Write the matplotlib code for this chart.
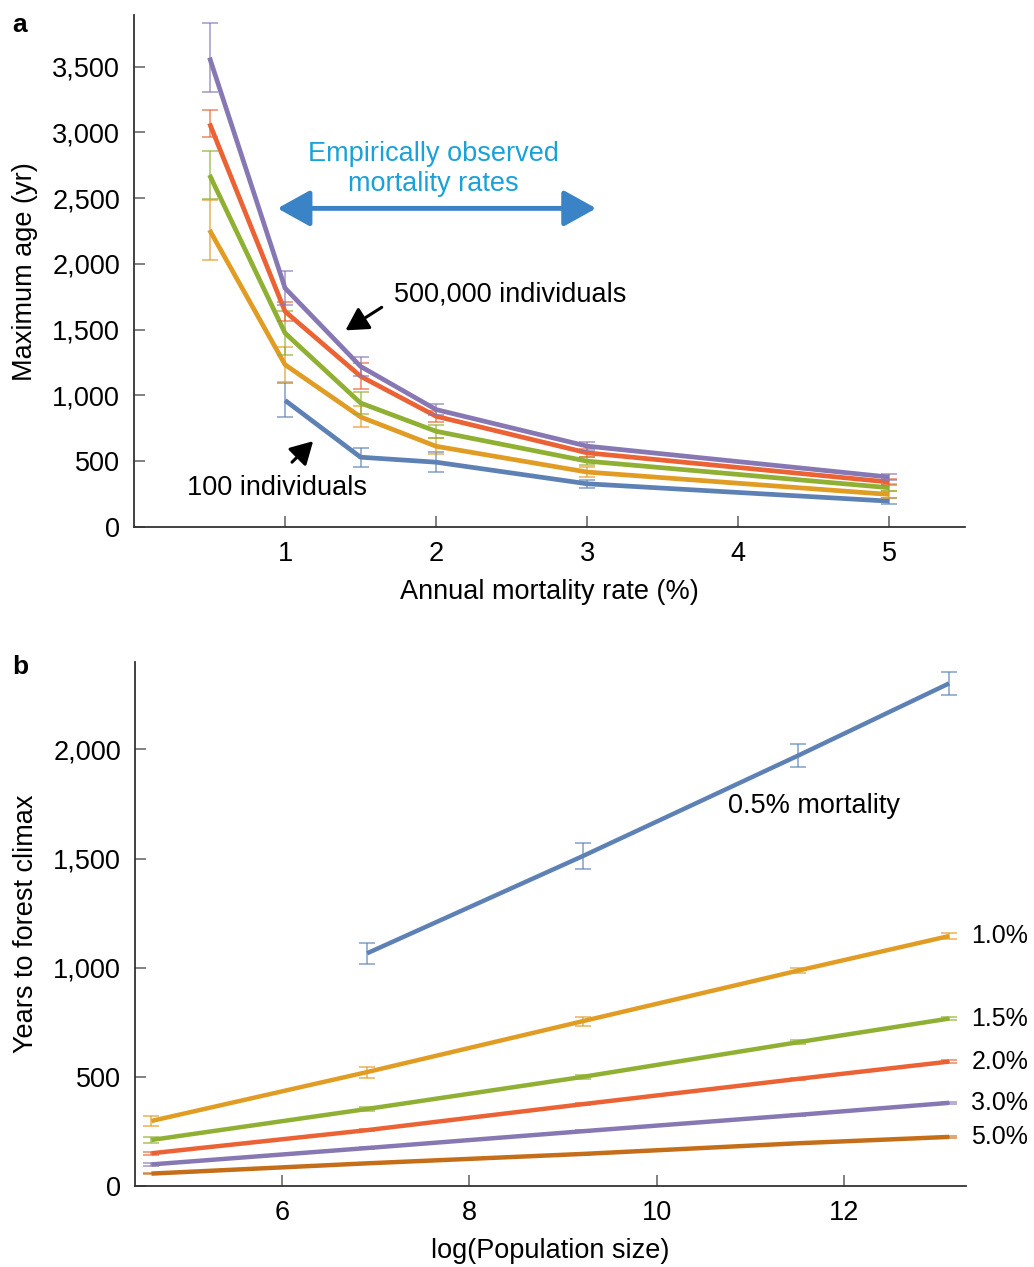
import numpy as np
import matplotlib
matplotlib.use('Agg')
import matplotlib.pyplot as plt
from matplotlib.ticker import FuncFormatter

plt.rcParams['font.family'] = ['Liberation Sans', 'DejaVu Sans']

# panel a data
mort = [0.5, 1, 1.5, 2, 3, 5]
age_purple = [3568, 1816, 1221, 893, 615, 380]
err_purple = [265, 130, 70, 40, 35, 25]
age_red = [3068, 1639, 1146, 842, 564, 342]
err_red = [105, 70, 100, 40, 30, 25]
age_green = [2676, 1474, 943, 728, 501, 299]
err_green = [185, 170, 80, 50, 30, 25]
age_orange = [2258, 1234, 837, 614, 418, 248]
err_orange = [225, 135, 80, 60, 35, 25]
mort_blue = [1, 1.5, 2, 3, 5]
age_blue = [963, 531, 493, 329, 197]
err_blue = [130, 72, 75, 30, 25]

# panel b data
logN = [4.605, 6.908, 9.210, 11.513, 13.122]
logN_05 = [6.908, 9.210, 11.513, 13.122]
yrs_05 = [1066, 1511, 1972, 2302]
err_05 = [49, 59, 54, 52]
yrs_10 = [298, 522, 755, 987, 1145]
err_10 = [22, 25, 20, 12, 12]
yrs_15 = [211, 353, 500, 659, 767]
err_15 = [15, 10, 8, 8, 6]
yrs_20 = [150, 256, 375, 491, 570]
err_20 = [8, 6, 6, 6, 6]
yrs_30 = [99, 174, 251, 326, 381]
err_30 = [5, 4, 4, 4, 4]
yrs_50 = [57, 104, 147, 196, 225]
err_50 = [4, 3, 3, 3, 3]
right_labels = ['1.0%', '1.5%', '2.0%', '3.0%', '5.0%']

blue = '#5E81B5'
orange = '#E19C24'
green = '#8FB032'
red = '#EB6235'
purple = '#8778B3'
brown = '#C56E1A'

FS = 19.5
comma = FuncFormatter(lambda v, p: '{:,.0f}'.format(v))

fig = plt.figure(figsize=(10.34, 12.67), dpi=100)
ax1 = fig.add_axes([0.1296, 0.584, 0.8034, 0.404])
ax2 = fig.add_axes([0.1306, 0.0639, 0.8034, 0.4136])


def style(ax):
    for s in ['top', 'right']:
        ax.spines[s].set_visible(False)
    for s in ['left', 'bottom']:
        ax.spines[s].set_color('#333333')
        ax.spines[s].set_linewidth(1.3)
    ax.tick_params(direction='in', length=8, width=1.3, color='#777777',
                   labelsize=FS, pad=10)
    ax.yaxis.set_major_formatter(comma)


def series(ax, x, y, e, c, lw=3.4):
    ax.errorbar(x, y, yerr=e, fmt='none', ecolor=c, alpha=0.7,
                elinewidth=1.2, capsize=5.5, capthick=1.2)
    ax.plot(x, y, color=c, lw=lw, solid_capstyle='butt')


# ---- panel a
series(ax1, mort_blue, age_blue, err_blue, blue)
series(ax1, mort, age_orange, err_orange, orange)
series(ax1, mort, age_green, err_green, green)
series(ax1, mort, age_red, err_red, red)
series(ax1, mort, age_purple, err_purple, purple)
ax1.set_xlim(0, 5.5)
ax1.set_ylim(0, 3890)
ax1.set_xticks([1, 2, 3, 4, 5])
ax1.set_yticks(np.arange(0, 3501, 500))
style(ax1)
ax1.set_xlabel('Annual mortality rate (%)', fontsize=FS, labelpad=9)
ax1.set_ylabel('Maximum age (yr)', fontsize=FS, labelpad=10)

ax1.text(1.98, 2718, 'Empirically observed\nmortality rates', color='#1BA1D9',
         fontsize=FS, ha='center', va='center', linespacing=1.2)
ax1.annotate('', xy=(0.95, 2422), xytext=(3.06, 2422),
             arrowprops=dict(arrowstyle='<|-|>,head_length=0.9,head_width=0.5',
                             color='#3A83C6', lw=3.5, mutation_scale=22,
                             shrinkA=0, shrinkB=0))
ax1.text(1.72, 1769, '500,000 individuals', fontsize=FS, ha='left', va='center')
ax1.annotate('', xy=(1.40, 1495), xytext=(1.64, 1670),
             arrowprops=dict(arrowstyle='-|>,head_length=0.8,head_width=0.45',
                             color='black', lw=2.2, mutation_scale=17,
                             shrinkA=0, shrinkB=0))
ax1.text(0.35, 296, '100 individuals', fontsize=FS, ha='left', va='center')
ax1.annotate('', xy=(1.186, 653), xytext=(1.046, 493),
             arrowprops=dict(arrowstyle='-|>,head_length=0.8,head_width=0.45',
                             color='black', lw=2.2, mutation_scale=17,
                             shrinkA=0, shrinkB=0))

# ---- panel b
series(ax2, logN, yrs_50, err_50, brown, lw=3.2)
series(ax2, logN, yrs_30, err_30, purple, lw=3.2)
series(ax2, logN, yrs_20, err_20, red, lw=3.2)
series(ax2, logN, yrs_15, err_15, green, lw=3.2)
series(ax2, logN, yrs_10, err_10, orange, lw=3.2)
series(ax2, logN_05, yrs_05, err_05, blue, lw=3.2)
ax2.set_xlim(4.43, 13.3)
ax2.set_ylim(0, 2400)
ax2.set_xticks([6, 8, 10, 12])
ax2.set_yticks(np.arange(0, 2001, 500))
style(ax2)
ax2.set_xlabel('log(Population size)', fontsize=FS, labelpad=9)
ax2.set_ylabel('Years to forest climax', fontsize=FS, labelpad=10)

ax2.text(10.76, 1739, '0.5% mortality', fontsize=FS, ha='left', va='center')
ends = [yrs_10[-1], yrs_15[-1], yrs_20[-1], yrs_30[-1], yrs_50[-1]]
for lab, yv in zip(right_labels, ends):
    ax2.text(13.36, yv, lab, fontsize=18, ha='left', va='center', clip_on=False)

fig.text(0.012, 0.99, 'a', fontsize=19, fontweight='bold', va='top')
fig.text(0.012, 0.483, 'b', fontsize=19, fontweight='bold', va='top')

fig.savefig('out.png', dpi=100)
